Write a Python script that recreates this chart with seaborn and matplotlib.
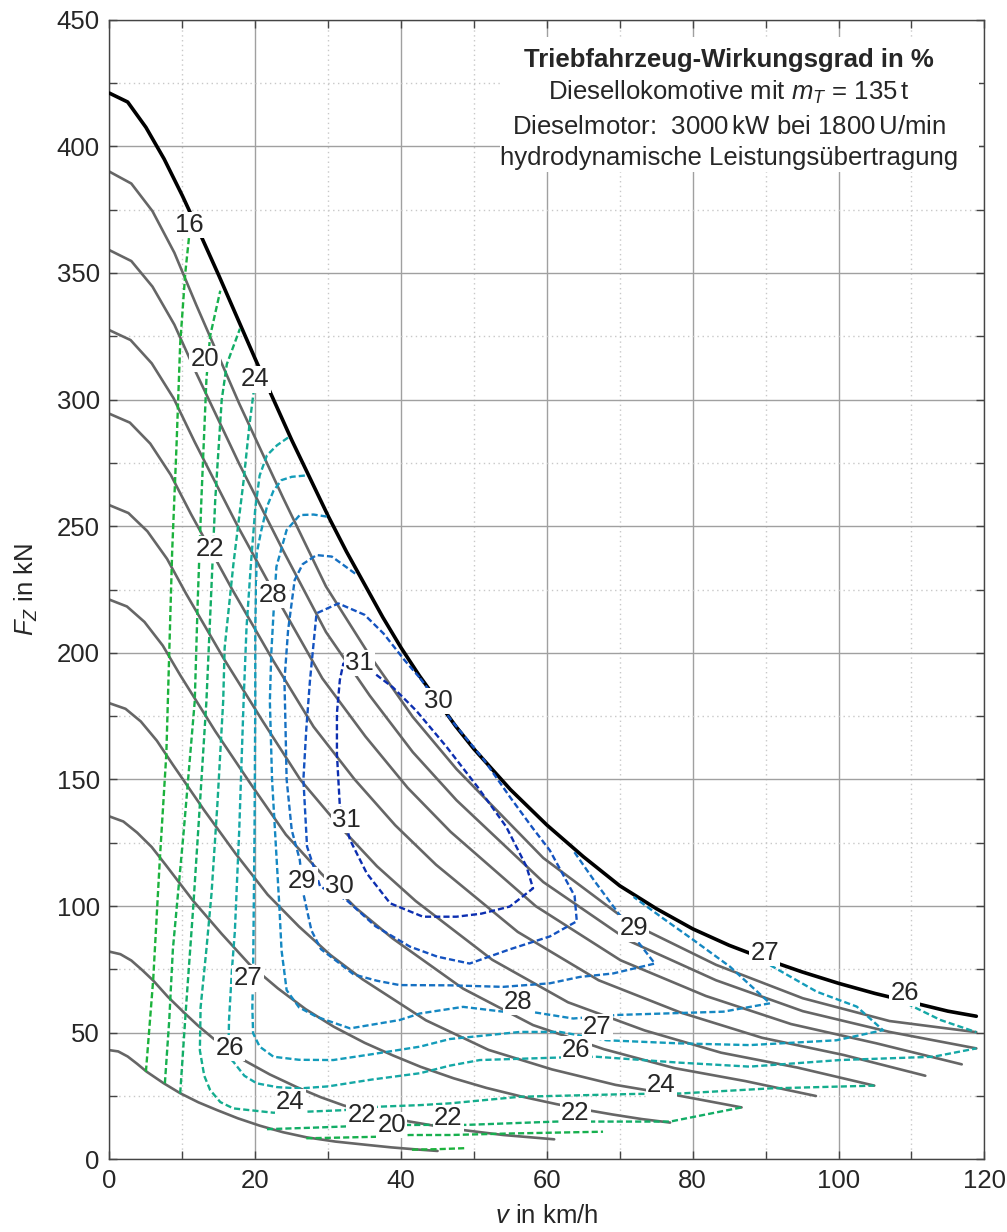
import seaborn as sns
import matplotlib.pyplot as plt
from matplotlib.patches import Rectangle
from matplotlib.ticker import MultipleLocator

# full load curve (black)
v_full = [0, 2.5, 5, 7.5, 10, 12.5, 15, 17.5, 20, 22.5, 25, 27.5, 30, 32.5, 35, 37.5, 40, 42.5, 45,
          47.5, 50, 55, 60, 65, 70, 75, 80, 85, 90, 95, 100, 105, 110, 115, 118.9]
f_full = [421, 417.5, 407.5, 395, 380.5, 365, 349, 332.5, 316, 300, 284, 269, 254, 240, 227, 214, 202,
          191, 181, 171, 162, 146, 132, 119.5, 108, 99, 91, 84.5, 79, 74, 69.5, 65.5, 62, 58.5, 56.5]

# partial load curves (gray), from top to bottom
v_g1 = [0, 3.0, 5.9, 8.9, 11.9, 17.8, 23.8, 29.7, 35.7, 41.6, 47.6, 59.5, 71.3, 83.2, 95.1, 107.0, 118.9]
f_g1 = [390, 385.3, 374.4, 358.0, 337.4, 298.4, 261.3, 226.2, 198.9, 174.7, 154.1, 119.0, 93.6, 76.8,
        63.6, 54.6, 50.2]
v_g2 = [0, 3.0, 5.9, 8.9, 11.9, 17.8, 23.8, 29.7, 35.7, 41.6, 47.6, 59.5, 71.3, 83.2, 95.1, 107.0, 118.9]
f_g2 = [359, 354.7, 344.6, 329.6, 310.5, 274.6, 240.5, 208.2, 183.1, 160.8, 141.8, 109.5, 86.2, 70.7,
        58.5, 50.3, 43.8]
v_g3 = [0, 2.9, 5.8, 8.8, 11.7, 17.5, 23.4, 29.2, 35.1, 40.9, 46.8, 58.5, 70.1, 81.8, 93.5, 105.2, 116.9]
f_g3 = [327.4, 323.5, 314.3, 300.5, 283.2, 250.5, 219.4, 189.9, 167.0, 146.7, 129.3, 99.9, 78.6, 64.5,
        53.4, 45.8, 37.5]
v_g4 = [0, 2.8, 5.6, 8.4, 11.2, 16.8, 22.4, 28.0, 33.6, 39.2, 44.8, 56.0, 67.1, 78.3, 89.5, 100.7, 111.9]
f_g4 = [294.4, 290.9, 282.6, 270.3, 254.7, 225.2, 197.2, 170.8, 150.1, 131.9, 116.3, 89.8, 70.7, 58.0,
        48.0, 41.2, 33.0]
v_g5 = [0, 2.6, 5.2, 7.9, 10.5, 15.7, 21.0, 26.2, 31.5, 36.7, 42.0, 52.5, 62.9, 73.4, 83.9, 94.4, 104.9]
f_g5 = [258.3, 255.2, 248.0, 237.1, 223.4, 197.6, 173.1, 149.8, 131.7, 115.7, 102.0, 78.8, 62.0, 50.9,
        42.1, 36.2, 29.1]
v_g6 = [0, 2.4, 4.8, 7.3, 9.7, 14.5, 19.4, 24.2, 29.1, 33.9, 38.8, 48.5, 58.1, 67.8, 77.5, 87.2, 96.9]
f_g6 = [221, 218.3, 212.2, 202.9, 191.2, 169.1, 148.1, 128.2, 112.7, 99.0, 87.3, 67.4, 53.0, 43.5,
        36.0, 30.9, 25.0]
v_g7 = [0, 2.2, 4.3, 6.5, 8.7, 13.0, 17.3, 21.7, 26.0, 30.3, 34.7, 43.4, 52.0, 60.7, 69.4, 78.0, 86.7]
f_g7 = [180.1, 177.9, 172.9, 165.3, 155.8, 137.8, 120.7, 104.5, 91.9, 80.7, 71.1, 54.9, 43.2, 35.5,
        29.4, 25.2, 20.5]
v_g8 = [0, 1.9, 3.8, 5.8, 7.7, 11.5, 15.4, 19.2, 23.1, 26.9, 30.8, 35, 38.9, 42.7, 47.2, 51.7, 56.5,
        61.3, 65, 69, 73, 76.9]
f_g8 = [135.4, 133.4, 129, 123.3, 116.3, 102, 89, 77, 67.5, 59.3, 52.3, 46, 41, 36.5, 32, 28.2, 24.8,
        21.8, 19.7, 17.7, 15.9, 14.5]
v_g9 = [0, 1.5, 3, 4.5, 6, 8, 10.1, 12.1, 14.2, 16.3, 18.4, 22, 25.7, 29, 32.1, 36.5, 41.2, 46.7, 54, 61]
f_g9 = [82, 81, 78.5, 74.7, 70.6, 64.2, 58.3, 52.9, 47.8, 43.2, 39.2, 33.5, 28.5, 24.5, 21.3, 17.7,
        14.9, 12.2, 9.6, 7.9]
v_g10 = [0, 1.2, 2.5, 3.8, 5.1, 7.4, 9.7, 12.2, 14.7, 17.6, 20.6, 23.8, 27, 31, 35.3, 38.7, 42.1, 45]
f_g10 = [43.1, 42.6, 40.6, 37.7, 34.6, 30.1, 26.1, 22.5, 19.5, 16.2, 13.3, 10.7, 8.7, 7.0, 5.7, 4.7,
         3.9, 3.3]

# efficiency isolines (v, F)
iso16_a = [(5.0, 34.6), (6.0, 71), (6.9, 118), (7.8, 160), (8.2, 200), (8.6, 240), (9.2, 282),
           (9.7, 322), (10.4, 350), (11.2, 372)]
iso16_b = [(41.5, 3.8), (45.0, 4.0), (48.8, 4.4)]
iso20_a = [(7.6, 30), (8.2, 55), (8.7, 83), (10.2, 130), (11.7, 181), (12.1, 220), (12.6, 260),
           (13.3, 308), (13.8, 325), (15.2, 343)]
iso20_b = [(27.0, 8.3), (32.0, 8.6), (36.6, 8.9), (41.2, 9.6), (46.7, 9.6), (55.0, 10.2), (67.7, 10.9)]
iso22_a = [(9.7, 26), (10.5, 60), (11.5, 100), (12.4, 140), (13.3, 181), (13.9, 220), (14.5, 260),
           (15.4, 300), (16.1, 314), (17.9, 328)]
iso22_b = [(21.6, 11.9), (28.0, 12.5), (37.1, 13.5), (44.0, 13.6), (49.0, 13.6), (61.3, 14.9),
           (66.4, 14.9), (76.9, 14.9), (86.7, 20.5)]
iso24 = [(20.0, 308), (19.2, 290), (18.4, 268), (17.0, 235), (15.8, 202), (15.6, 181), (14.8, 140),
         (14.0, 105), (13.3, 83), (12.5, 60), (12.4, 43), (13.0, 33), (13.8, 27.4), (15.2, 22.6),
         (17.0, 20.1), (22.5, 18.4), (27.0, 18.8), (32.1, 19.4), (37.1, 20.8), (42.6, 21.4),
         (46.7, 22.1), (56.3, 24.7), (71.9, 25.8), (78.3, 26.0), (90.6, 28.0), (104.9, 29.1)]
iso26_a = [(24.5, 285), (23.0, 282), (21.6, 278), (20.6, 270), (20.0, 257), (19.4, 235), (18.8, 210),
           (18.4, 181), (17.8, 130), (17.2, 90), (16.8, 75), (16.4, 55), (16.3, 40.5), (17.0, 38.5),
           (18.5, 33), (20.2, 30), (23.0, 28.5), (26.1, 28), (30.0, 28.8), (36.0, 31.5), (42.6, 34),
           (46.7, 37), (50.8, 39.2), (61.8, 40.2), (66.8, 40.5), (78.0, 38.2), (87.8, 36.6),
           (100.2, 39.2), (113.0, 40.5), (118.9, 43.8)]
iso26_b = [(108.6, 64.5), (109.8, 60.9), (114.0, 55.0), (118.9, 50.2)]
iso27 = [(26.8, 270), (25.0, 269.5), (23.6, 268.2), (22.5, 264), (21.6, 257.7), (20.8, 248),
         (20.2, 239.3), (20.0, 210), (20.0, 181), (19.9, 130), (19.7, 73.4), (19.6, 60), (19.7, 49.8),
         (20.6, 44.5), (22.5, 40.5), (26.0, 39.3), (30.7, 39.2), (36.0, 41.5), (42.6, 44.5),
         (46.7, 47.5), (56.3, 50.3), (61.8, 50.3), (68.2, 47.0), (78.0, 45.8), (87.8, 45.1),
         (99.7, 47.0), (106.1, 51.0), (102.5, 60.3), (97.0, 66.2), (90.6, 76.7), (89.5, 79.5)]
iso28 = [(29.8, 253.8), (28.0, 254.6), (26.1, 254.4), (24.3, 248.5), (22.9, 234), (22.5, 215.6),
         (22.2, 200), (22.0, 181), (22.3, 150), (22.8, 125), (23.3, 100), (23.6, 82.6), (24.3, 66.8),
         (26.0, 60), (28.4, 56.3), (33.0, 51.7), (39.8, 55.0), (42.6, 57.6), (48.5, 60.2), (54.0, 58.3),
         (57.7, 58.3), (63.6, 55.6), (69.6, 57.0), (84.2, 58.3), (90.6, 61.6), (85.1, 76.1),
         (80.1, 86.6), (76.0, 95.0), (71.9, 103.6)]
iso29 = [(33.7, 231.3), (30.5, 238), (28.4, 238.6), (26.5, 235), (25.4, 228.7), (24.5, 208.9),
         (24.0, 189), (24.1, 177), (24.3, 150), (25.0, 130), (26.1, 118.3), (26.6, 104.9), (27.7, 90.4),
         (29.0, 83), (31.5, 77.5), (33.5, 73), (36.7, 70.5), (39.8, 68.8), (46.7, 68.7), (54.0, 68.1),
         (60.4, 69.5), (64.5, 72), (69.1, 73.4), (74.8, 77.3), (72.3, 86.6), (70.0, 96.4),
         (66.5, 110), (63.6, 122)]
iso30 = [(42.6, 190), (47.0, 173), (51.3, 158), (54.9, 143.2), (58.0, 131), (60.4, 122), (63.8, 104),
         (64.1, 94), (60.4, 88), (55.0, 83), (49.4, 77.3), (45.0, 80), (41.2, 84), (36.5, 92),
         (32.5, 102.4), (28.9, 107.7), (27.1, 123.5), (26.6, 150), (27.0, 170), (27.5, 189),
         (28.4, 215.6), (31.4, 219.5), (35.0, 215), (37.6, 207.6), (40.5, 197), (42.6, 190)]
iso31 = [(32.1, 196), (34.0, 196.5), (36.2, 192.2), (38.9, 186.3), (42.1, 177.1), (46.2, 163),
         (50.5, 147), (54.4, 131.4), (57.2, 115.6), (58.1, 107), (54.9, 99.8), (51.0, 97), (47.6, 95.8),
         (43.0, 95.8), (38.5, 101.1), (35.3, 112.9), (33.0, 126.1), (32.5, 131.4), (31.6, 139.4),
         (31.2, 160), (31.2, 176.2), (31.6, 189.3), (32.1, 196)]

iso_colors = {16: '#1cb23c', 20: '#17b04e', 22: '#12ad66', 24: '#14ad8c', 26: '#15a8a6',
              27: '#139cba', 28: '#1588c2', 29: '#1670c2', 30: '#1452c0', 31: '#0c2eb0'}

# contour labels: text, v, F
label_text = ['16', '20', '24', '22', '28', '31', '30', '31', '29', '30', '27', '26', '24', '22', '20',
              '22', '28', '27', '26', '24', '22', '29', '27', '26']
label_v = [11.0, 13.1, 20.0, 13.8, 22.4, 34.3, 45.1, 32.5, 26.4, 31.6, 19.0, 16.5, 24.8, 34.6, 38.7,
           46.5, 56.1, 66.9, 64.0, 75.7, 63.9, 71.9, 89.9, 109.1]
label_f = [369, 316, 308, 241, 223, 196, 181, 134, 110, 108, 71.5, 44, 22.7, 17.5, 13.5,
           16.2, 62.2, 52.3, 43.3, 29.3, 18.2, 91.2, 81.4, 65.6]

sns.set_theme(style="white")
plt.rcParams['font.family'] = ['Liberation Sans', 'DejaVu Sans']
plt.rcParams['mathtext.fontset'] = 'custom'
plt.rcParams['mathtext.rm'] = 'Liberation Sans'
plt.rcParams['mathtext.it'] = 'Liberation Sans:italic'

fig = plt.figure(figsize=(10.07, 12.32), dpi=100)
ax = fig.add_axes([0.1087, 0.059, 0.8688, 0.925])

gray_v = [v_g1, v_g2, v_g3, v_g4, v_g5, v_g6, v_g7, v_g8, v_g9, v_g10]
gray_f = [f_g1, f_g2, f_g3, f_g4, f_g5, f_g6, f_g7, f_g8, f_g9, f_g10]
for vv, ff in zip(gray_v, gray_f):
    sns.lineplot(x=vv, y=ff, ax=ax, color='#666666', linewidth=1.9, sort=False,
                 estimator=None, zorder=2)
sns.lineplot(x=v_full, y=f_full, ax=ax, color='black', linewidth=2.6, sort=False,
             estimator=None, zorder=3)

iso_lines = [(16, iso16_a), (16, iso16_b), (20, iso20_a), (20, iso20_b), (22, iso22_a),
             (22, iso22_b), (24, iso24), (26, iso26_a), (26, iso26_b), (27, iso27), (28, iso28),
             (29, iso29), (30, iso30), (31, iso31)]
for level, pts in iso_lines:
    sns.lineplot(x=[p[0] for p in pts], y=[p[1] for p in pts], ax=ax, color=iso_colors[level],
                 linewidth=1.7, linestyle=(0, (2.6, 1.3)), sort=False, estimator=None, zorder=4)

for t, x, y in zip(label_text, label_v, label_f):
    ax.text(x, y, t, fontsize=18.5, ha='center', va='center', zorder=6,
            bbox=dict(facecolor='white', edgecolor='none', pad=1.0))

ax.set_xlim(0, 120)
ax.set_ylim(0, 450)
ax.xaxis.set_major_locator(MultipleLocator(20))
ax.xaxis.set_minor_locator(MultipleLocator(10))
ax.yaxis.set_major_locator(MultipleLocator(50))
ax.yaxis.set_minor_locator(MultipleLocator(25))
ax.grid(which='major', color='#a0a0a0', linewidth=1.0, linestyle='-', zorder=0)
ax.grid(which='minor', color='#c8c8c8', linewidth=1.0, linestyle=(0, (1, 2.5)), zorder=0)
ax.set_axisbelow(True)
ax.tick_params(which='both', direction='in', top=True, right=True, bottom=True, left=True,
               length=6, width=1, color='#444444', labelsize=18.5, pad=7)
for s in ax.spines.values():
    s.set_color('#444444')
    s.set_linewidth(1.0)

ax.set_xlabel('$v$ in km/h', fontsize=18.5, labelpad=8)
ax.set_ylabel('$F_Z$ in kN', fontsize=18.5, labelpad=12)

ax.add_patch(Rectangle((0.446, 0.866), 0.548, 0.119, transform=ax.transAxes,
                       facecolor='white', edgecolor='none', zorder=1))
ax.text(0.708, 0.965, 'Triebfahrzeug-Wirkungsgrad in %', transform=ax.transAxes,
        fontsize=18.5, fontweight='bold', ha='center', va='center', zorder=7)
ax.text(0.708, 0.936, 'Diesellokomotive mit $m_T$ = 135$\\,$t', transform=ax.transAxes,
        fontsize=18.5, ha='center', va='center', zorder=7)
ax.text(0.708, 0.906, 'Dieselmotor:  3000$\\,$kW bei 1800$\\,$U/min', transform=ax.transAxes,
        fontsize=18.5, ha='center', va='center', zorder=7)
ax.text(0.708, 0.879, 'hydrodynamische Leistungsübertragung', transform=ax.transAxes,
        fontsize=18.5, ha='center', va='center', zorder=7)

fig.savefig('out.png', dpi=100)
